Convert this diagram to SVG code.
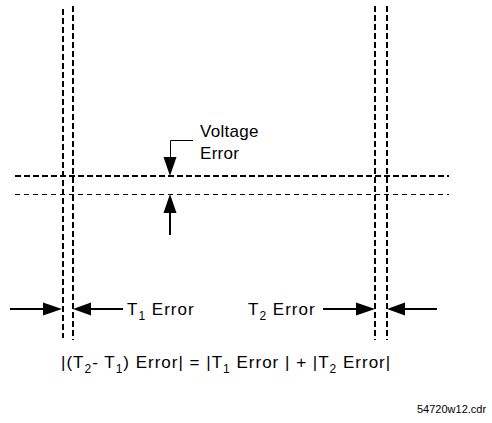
<svg xmlns="http://www.w3.org/2000/svg" width="492" height="423" viewBox="0 0 492 423">
<style>
.vd{stroke:#000;stroke-width:2;stroke-dasharray:6 3;fill:none}
.hd1{stroke:#000;stroke-width:2;stroke-dasharray:6 3;fill:none}
.hd2{stroke:#000;stroke-width:1;stroke-dasharray:5 4;fill:none}
.ln{stroke:#000;stroke-width:2;fill:none}
.ld{stroke:#000;stroke-width:1;fill:none}
.ah{fill:#000;stroke:none}
text{font-family:"Liberation Sans",Arial,sans-serif;font-size:17px;fill:#000}
.ls{letter-spacing:1px}
.sub{font-size:12px}
.fn{font-size:11px}
</style>
<g id="gridlines">
<line class="vd" x1="63" y1="9" x2="63" y2="338"/>
<line class="vd" x1="73" y1="6" x2="73" y2="340"/>
<line class="vd" x1="375" y1="6" x2="375" y2="340"/>
<line class="vd" x1="387" y1="6" x2="387" y2="340"/>
<line class="hd1" x1="15" y1="176" x2="449" y2="176"/>
<line class="hd2" x1="15" y1="194.5" x2="449" y2="194.5"/>
</g>
<g id="connectors">
<line class="ln" x1="10" y1="309" x2="45" y2="309"/>
<polygon class="ah" points="62,309 43,302.5 43,315.5"/>
<line class="ln" x1="90" y1="309" x2="123" y2="309"/>
<polygon class="ah" points="73,309 91,302.5 91,315.5"/>
<line class="ln" x1="323" y1="309" x2="358" y2="309"/>
<polygon class="ah" points="375,309 356,302.5 356,315.5"/>
<line class="ln" x1="404" y1="309" x2="437" y2="309"/>
<polygon class="ah" points="387,309 405,302.5 405,315.5"/>
<polyline class="ld" points="193,140.5 170.5,140.5 170.5,158"/>
<polygon class="ah" points="170,176 163.5,157 176.5,157"/>
<line class="ln" x1="170" y1="211" x2="170" y2="235"/>
<polygon class="ah" points="170,194 163.5,213 176.5,213"/>
</g>
<g id="label-voltage">
<text x="200" y="137" style="letter-spacing:0.3px">Voltage</text>
<text x="200" y="159" style="letter-spacing:0.3px">Error</text>
</g>
<g id="label-t1">
<text class="ls" x="127" y="315">T<tspan class="sub" dy="5">1</tspan><tspan dy="-5"> Error</tspan></text>
</g>
<g id="label-t2">
<text class="ls" x="248" y="315">T<tspan class="sub" dy="5">2</tspan><tspan dy="-5"> Error</tspan></text>
</g>
<g id="formula">
<text class="ls" x="61" y="368">|(T<tspan class="sub" dy="5">2</tspan><tspan dy="-5">- T</tspan><tspan class="sub" dy="5">1</tspan><tspan dy="-5">) Error| = |T</tspan><tspan class="sub" dy="5">1</tspan><tspan dy="-5"> Error | + |T</tspan><tspan class="sub" dy="5">2</tspan><tspan dy="-5"> Error|</tspan></text>
</g>
<g id="filename">
<text class="fn" x="417" y="413">54720w12.cdr</text>
</g>
</svg>
